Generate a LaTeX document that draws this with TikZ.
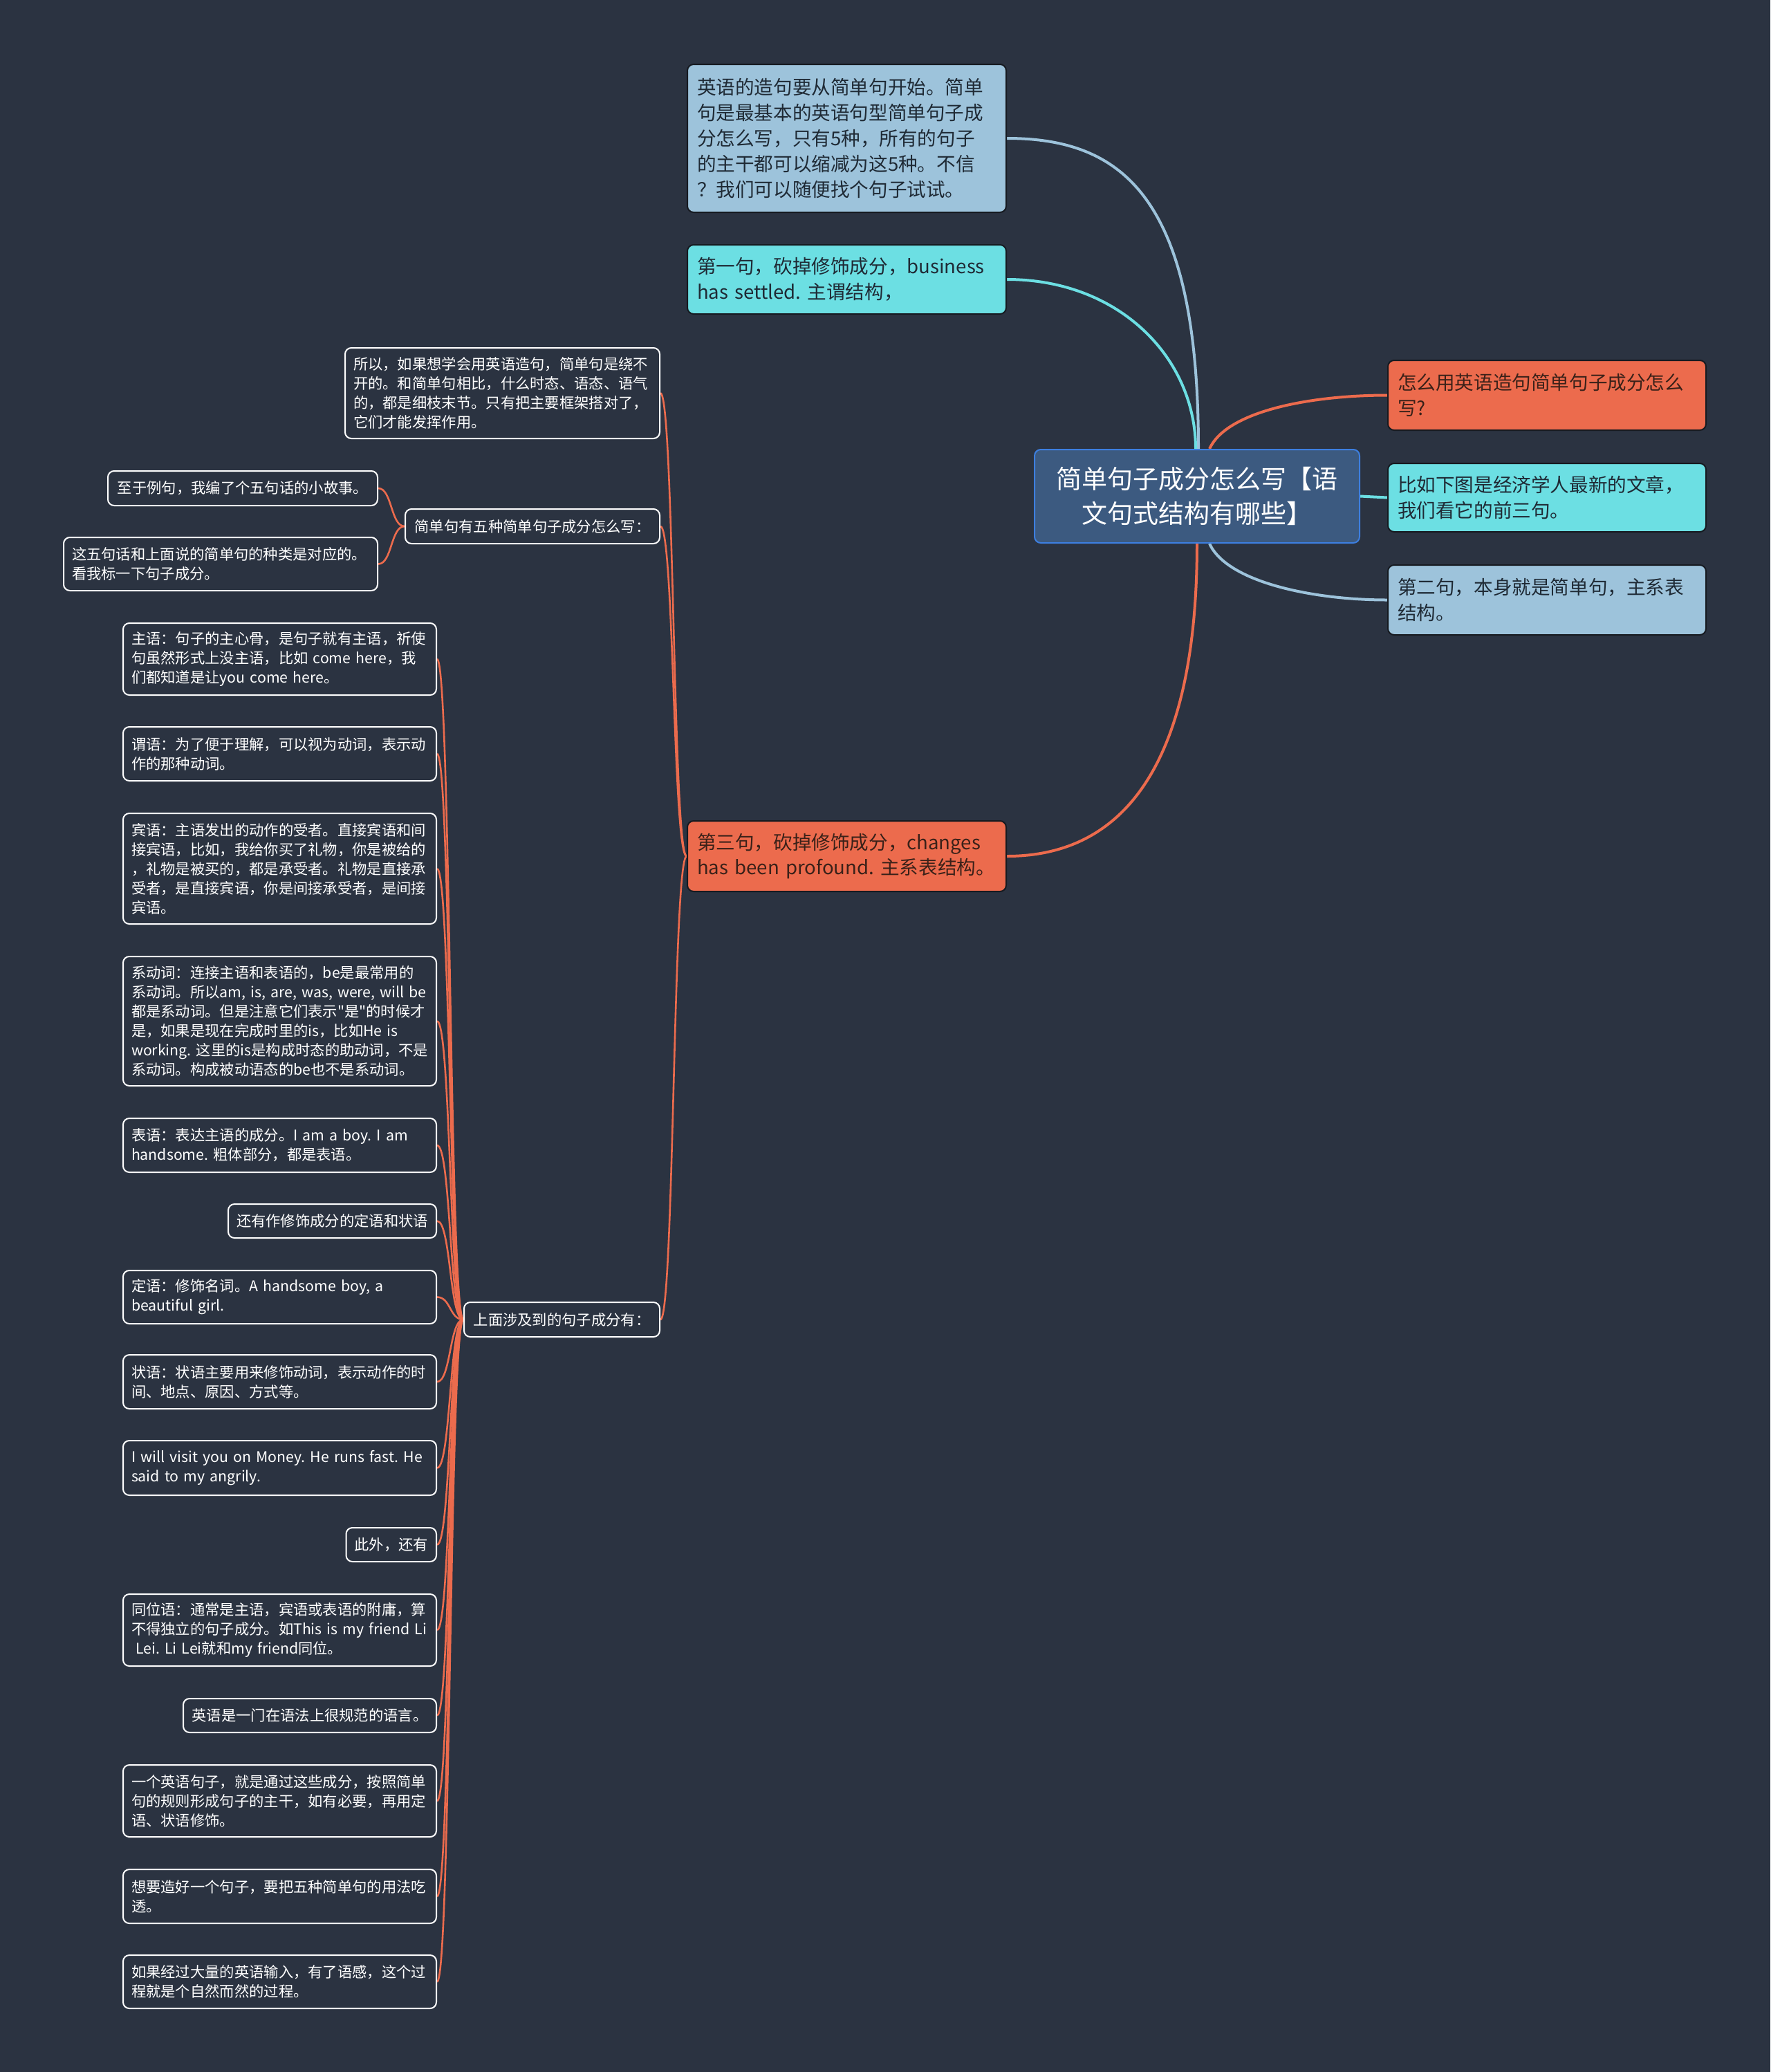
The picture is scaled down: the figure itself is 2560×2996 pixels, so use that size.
\documentclass[tikz,border=0pt]{standalone}
\usepackage{fontspec}
\setmainfont{Noto Sans CJK SC}[Ligatures=TeXOff]
\usetikzlibrary{calc}
\definecolor{bgc}{HTML}{2B3341}
\definecolor{nblue}{HTML}{9DC3DB}
\definecolor{ncyan}{HTML}{6CDFE3}
\definecolor{norange}{HTML}{EC6B4D}
\definecolor{rootfill}{HTML}{3C5A80}
\definecolor{rootdraw}{HTML}{3D7FE0}
\definecolor{bord}{HTML}{161A20}
\definecolor{tdark}{HTML}{1F2A35}
\definecolor{tbrown}{HTML}{3A2119}
\definecolor{eblue}{HTML}{9DC3DB}
\definecolor{ecyan}{HTML}{6CDFE3}
\definecolor{eorange}{HTML}{EC6B4D}
\pgfdeclarelayer{bglayer}
\pgfdeclarelayer{edgelayer}
\pgfsetlayers{bglayer,edgelayer,main}
\newcommand\fsmall{\fontsize{21.3pt}{28pt}\selectfont}
\newcommand\fbig{\fontsize{27.6pt}{36.8pt}\selectfont}
\newcommand\froot{\fontsize{37pt}{50pt}\selectfont}
\frenchspacing
\begin{document}
\frenchspacing
\hyphenpenalty=10000
\begin{tikzpicture}[x=1pt,y=-1pt,
 box/.style={inner xsep=12pt, inner ysep=0pt, rounded corners=9pt, line width=2pt, anchor=north east},
 dk/.style={box, draw=white, fill=bgc, text=white, font=\fsmall, align=left},
 big/.style={box, inner xsep=14pt, draw=bord, font=\fbig, align=left},
 bl/.style={big, fill=nblue, text=tdark},
 cy/.style={big, fill=ncyan, text=tdark},
 og/.style={big, fill=norange, text=tbrown},
 rt/.style={box, inner xsep=20pt, draw=rootdraw, fill=rootfill, text=white, font=\froot, align=center, anchor=center},
 e1/.style={line width=4pt},
 e2/.style={line width=2.6pt, draw=eorange}
]
\useasboundingbox (0,0) rectangle (2560,2996);
\begin{pgfonlayer}{bglayer}
\fill[bgc] (0,0) rectangle (2560,2996);
\end{pgfonlayer}

% root
\node[rt, minimum width=470pt, minimum height=135pt, text width=430pt] (root) at (1731,717.5) {简单句子成分怎么写【语\\文句式结构有哪些】};

% first level
\node[bl, minimum width=461pt, minimum height=214pt, text width=433pt] (nA) at (1456,92) {英语的造句要从简单句开始。简单\\句是最基本的英语句型简单句子成\\分怎么写，只有5种，所有的句子\\的主干都可以缩减为这5种。不信\\？我们可以随便找个句子试试。};
\node[cy, minimum width=461pt, minimum height=100pt, text width=433pt] (nB) at (1456,353) {\mbox{第一句，砍掉修饰成分，business}\\\mbox{has settled. 主谓结构，}};
\node[og, minimum width=461pt, minimum height=102pt, text width=433pt] (nC) at (1456,1186) {\mbox{第三句，砍掉修饰成分，changes}\\\mbox{has been profound. 主系表结构。}};
\node[og, anchor=north west, minimum width=460pt, minimum height=101pt, text width=432pt] (nD) at (2006,520) {怎么用英语造句简单句子成分怎么\\写?};
\node[cy, anchor=north west, minimum width=460pt, minimum height=99pt, text width=432pt] (nE) at (2006,669) {比如下图是经济学人最新的文章，\\我们看它的前三句。};
\node[bl, anchor=north west, minimum width=460pt, minimum height=101pt, text width=432pt] (nF) at (2006,816) {第二句，本身就是简单句，主系表\\结构。};

% second level
\node[dk, minimum width=455pt, minimum height=131pt, text width=431pt] (nS) at (955,502) {所以，如果想学会用英语造句，简单句是绕不\\开的。和简单句相比，什么时态、语态、语气\\的，都是细枝末节。只有把主要框架搭对了，\\它们才能发挥作用。};
\node[dk, minimum width=368pt, minimum height=50pt] (nJ) at (955,735) {简单句有五种简单句子成分怎么写：};
\node[dk, minimum width=283pt, minimum height=50pt] (nU) at (955,1882) {上面涉及到的句子成分有：};

% children of nJ
\node[dk, minimum width=390pt, minimum height=50pt] (j1) at (547,680) {至于例句，我编了个五句话的小故事。};
\node[dk, minimum width=454pt, minimum height=77pt, text width=430pt] (j2) at (547,776) {这五句话和上面说的简单句的种类是对应的。\\看我标一下句子成分。};

% children of nU
\node[dk, minimum width=453pt, minimum height=104pt, text width=429pt] (u1) at (632,900) {主语：句子的主心骨，是句子就有主语，祈使\\\mbox{句虽然形式上没主语，比如 come here，我}\\\mbox{们都知道是让you come here。}};
\node[dk, minimum width=453pt, minimum height=78pt, text width=429pt] (u2) at (632,1050) {谓语：为了便于理解，可以视为动词，表示动\\作的那种动词。};
\node[dk, minimum width=453pt, minimum height=160pt, text width=429pt] (u3) at (632,1175) {宾语：主语发出的动作的受者。直接宾语和间\\接宾语，比如，我给你买了礼物，你是被给的\\，礼物是被买的，都是承受者。礼物是直接承\\受者，是直接宾语，你是间接承受者，是间接\\宾语。};
\node[dk, minimum width=453pt, minimum height=187pt, text width=429pt] (u4) at (632,1382) {\mbox{系动词：连接主语和表语的，be是最常用的}\\\mbox{系动词。所以am, is, are, was, were, will be}\\\mbox{都是系动词。但是注意它们表示"是"的时候才}\\\mbox{是，如果是现在完成时里的is，比如He is}\\\mbox{working. 这里的is是构成时态的助动词，不是}\\\mbox{系动词。构成被动语态的be也不是系动词。}};
\node[dk, minimum width=453pt, minimum height=78pt, text width=429pt] (u5) at (632,1616) {\mbox{表语：表达主语的成分。I am a boy. I am}\\\mbox{handsome. 粗体部分，都是表语。}};
\node[dk, minimum width=301pt, minimum height=49pt] (u6) at (632,1740) {还有作修饰成分的定语和状语};
\node[dk, minimum width=453pt, minimum height=77pt, text width=429pt] (u7) at (632,1836) {\mbox{定语：修饰名词。A handsome boy, a}\\\mbox{beautiful girl.}};
\node[dk, minimum width=453pt, minimum height=78pt, text width=429pt] (u8) at (632,1958) {状语：状语主要用来修饰动词，表示动作的时\\间、地点、原因、方式等。};
\node[dk, minimum width=453pt, minimum height=79pt, text width=429pt] (u9) at (632,2082) {\mbox{I will visit you on Money. He runs fast. He}\\\mbox{said to my angrily.}};
\node[dk, minimum width=128pt, minimum height=49pt] (u10) at (632,2208) {此外，还有};
\node[dk, minimum width=453pt, minimum height=104pt, text width=429pt] (u11) at (632,2304) {\mbox{同位语：通常是主语，宾语或表语的附庸，算}\\\mbox{不得独立的句子成分。如This is my friend Li}\\\mbox{\hspace*{0.3em}Lei. Li Lei就和my friend同位。}};
\node[dk, minimum width=366pt, minimum height=49pt] (u12) at (632,2455) {英语是一门在语法上很规范的语言。};
\node[dk, minimum width=453pt, minimum height=104pt, text width=429pt] (u13) at (632,2551) {一个英语句子，就是通过这些成分，按照简单\\句的规则形成句子的主干，如有必要，再用定\\语、状语修饰。};
\node[dk, minimum width=453pt, minimum height=78pt, text width=429pt] (u14) at (632,2702) {想要造好一个句子，要把五种简单句的用法吃\\透。};
\node[dk, minimum width=453pt, minimum height=77pt, text width=429pt] (u15) at (632,2826) {如果经过大量的英语输入，有了语感，这个过\\程就是个自然而然的过程。};

% connectors
\begin{pgfonlayer}{edgelayer}
\draw[e1, eblue] ([xshift=2pt]root.north) .. controls +(0,-363) and +(168,0) .. (nA.east);
\draw[e1, ecyan] ([xshift=-2pt]root.north) .. controls +(0,-130) and +(164,0) .. (nB.east);
\draw[e1, eorange] (root.south) .. controls +(0,295) and +(184,0) .. (nC.east);
\draw[e1, eorange] ([xshift=18pt]root.north) .. controls +(25,-55) and +(-110,0) .. (nD.west);
\draw[e1, ecyan] (root.east) -- (nE.west);
\draw[e1, eblue] ([xshift=18pt]root.south) .. controls +(25,55) and +(-110,0) .. (nF.west);

\foreach \c in {nS,nJ,nU}
  \draw[e2] (nC.west) .. controls +(-20,0) and +(20,0) .. (\c.east);
\foreach \c in {j1,j2}
  \draw[e2] (nJ.west) .. controls +(-20,0) and +(20,0) .. (\c.east);
\foreach \c in {u1,u2,u3,u4,u5,u6,u7,u8,u9,u10,u11,u12,u13,u14,u15}
  \draw[e2] (nU.west) .. controls +(-20,0) and +(20,0) .. (\c.east);
\end{pgfonlayer}
\end{tikzpicture}
\end{document}
